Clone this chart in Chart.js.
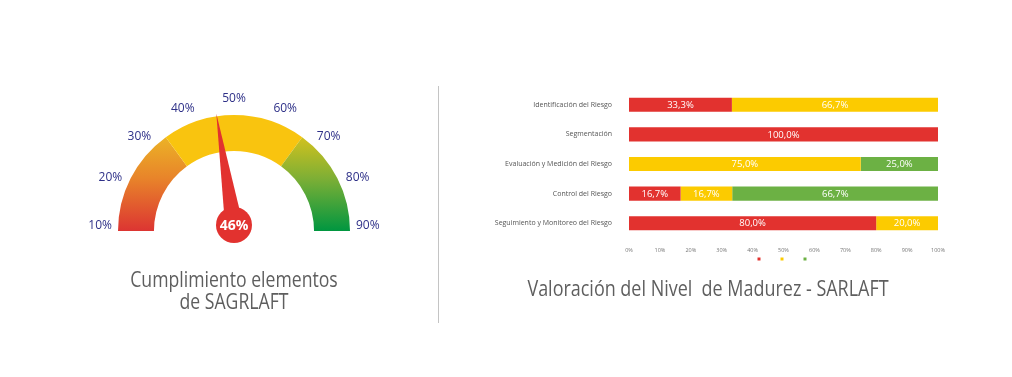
<!DOCTYPE html>
<html>
<head>
<meta charset="utf-8">
<script src="https://cdn.jsdelivr.net/npm/chart.js@4.4.1/dist/chart.umd.min.js"></script>
<style>
  html, body { margin: 0; padding: 0; background: #fff; }
  #wrap { position: relative; width: 1012px; height: 377px; overflow: hidden; font-family: "Open Sans", sans-serif; }
  #gauge { position: absolute; left: 0; top: 0; }
  #bars { position: absolute; left: 440px; top: 0; }
  .divider { position: absolute; left: 438px; top: 86px; width: 1px; height: 237px; background: #c4c4c4; }
  .title { position: absolute; color: #5e5e5e; font-size: 21px; line-height: 22px; white-space: nowrap; text-align: center; transform: scaleX(0.84); }
</style>
</head>
<body>
<div id="wrap">
  <canvas id="gauge" width="470" height="377"></canvas>
  <div class="divider"></div>
  <canvas id="bars" width="572" height="377"></canvas>
  <div class="title" style="left:34px; top:268px; width:400px;">Cumplimiento elementos<br>de SAGRLAFT</div>
  <div class="title" style="left:408px; top:277px; width:600px; transform: scaleX(0.855);">Valoración del Nivel&nbsp; de Madurez - SARLAFT</div>
</div>
<script>
// gauge data
const gaugeTicks = [10, 20, 30, 40, 50, 60, 70, 80, 90];
const gaugeBands = [10, 34, 66, 90];
const gaugeValue = 46;

// bar chart data
const categories = [
  "Identificación del Riesgo",
  "Segmentación",
  "Evaluación y Medición del Riesgo",
  "Control del Riesgo",
  "Seguimiento y Monitoreo del Riesgo"
];
const seriesNames = ["Bajo", "Medio", "Alto"];
const lowValues = [33.3, 100, 0, 16.7, 80];
const midValues = [66.7, 0, 75, 16.7, 20];
const highValues = [0, 0, 25, 66.7, 0];
const xTicks = [0, 10, 20, 30, 40, 50, 60, 70, 80, 90, 100];

const RED = "#e2322f";
const YELLOW = "#fccb00";
const GREEN = "#6cb144";

// gradient stops for each gauge band (bottom -> top)
const bandStops = [
  ["#dc3532", "#e8842a", "#ecb526"],
  ["#f9c40f", "#f9c40f", "#f9c40f"],
  ["#009640", "#7eaf35", "#d6c21d"]
];

const gaugeMin = gaugeBands[0];
const gaugeMax = gaugeBands[gaugeBands.length - 1];

const gaugeDecor = {
  id: "gaugeDecor",
  afterDatasetsDraw(chart) {
    const arc = chart.getDatasetMeta(0).data[0];
    if (!arc) return;
    const cx = arc.x, cy = arc.y, R = arc.outerRadius;
    const ctx = chart.ctx;
    const toAngle = v => Math.PI * (1 - (v - gaugeMin) / (gaugeMax - gaugeMin));

    ctx.save();
    // tick labels around the arc
    ctx.font = '12px "Open Sans"';
    ctx.fillStyle = "#2e3088";
    ctx.textAlign = "center";
    ctx.textBaseline = "middle";
    gaugeTicks.forEach(t => {
      const a = toAngle(t);
      const txt = t + "%";
      const hw = ctx.measureText(txt).width / 2;
      const x = cx + (R + 6 + hw) * Math.cos(a);
      const y = cy - 5 - (R + 6 + 5) * Math.sin(a);
      ctx.fillText(txt, x, y);
    });

    // needle
    const px = cx, py = cy - 6;
    const a = toAngle(gaugeValue);
    const len = R - 3;
    const tx = px + len * Math.cos(a), ty = py - len * Math.sin(a);
    const nx = Math.sin(a), ny = Math.cos(a);
    ctx.fillStyle = RED;
    ctx.beginPath();
    ctx.moveTo(tx, ty);
    ctx.lineTo(px + nx * 9, py + ny * 9);
    ctx.lineTo(px - nx * 9, py - ny * 9);
    ctx.closePath();
    ctx.fill();

    ctx.beginPath();
    ctx.arc(px, py, 18, 0, Math.PI * 2);
    ctx.fill();

    ctx.fillStyle = "#fff";
    ctx.font = 'bold 14px "Open Sans"';
    ctx.fillText(gaugeValue + "%", px, py + 1);
    ctx.restore();
  }
};

new Chart(document.getElementById("gauge"), {
  type: "doughnut",
  data: {
    labels: gaugeBands.slice(1).map((b, i) => gaugeBands[i] + "-" + b),
    datasets: [{
      data: gaugeBands.slice(1).map((b, i) => b - gaugeBands[i]),
      backgroundColor: (c) => {
        const stops = bandStops[c.dataIndex];
        const area = c.chart.chartArea;
        if (!area) return stops[0];
        const g = c.chart.ctx.createLinearGradient(0, area.bottom, 0, area.top + 20);
        g.addColorStop(0, stops[0]);
        g.addColorStop(0.55, stops[1]);
        g.addColorStop(1, stops[2]);
        return g;
      },
      borderWidth: 0,
      hoverOffset: 0,
      offset: 0
    }]
  },
  options: {
    responsive: false,
    animation: false,
    events: [],
    rotation: -90,
    circumference: 180,
    cutout: "69%",
    layout: { padding: { left: 118, right: 120, top: 115, bottom: 146 } },
    plugins: {
      legend: { display: false },
      tooltip: { enabled: false }
    }
  },
  plugins: [gaugeDecor]
});

const barLabels = {
  id: "barLabels",
  afterDatasetsDraw(chart) {
    const ctx = chart.ctx;
    ctx.save();
    ctx.font = '9.5px "Open Sans"';
    ctx.fillStyle = "#fff";
    ctx.textAlign = "center";
    ctx.textBaseline = "middle";
    chart.data.datasets.forEach((ds, i) => {
      chart.getDatasetMeta(i).data.forEach((bar, j) => {
        const v = ds.data[j];
        if (!v) return;
        const p = bar.getProps(["x", "y", "base"], true);
        ctx.fillText(v.toFixed(1).replace(".", ",") + "%", (p.x + p.base) / 2, p.y + 0.5);
      });
    });
    ctx.restore();
  }
};

new Chart(document.getElementById("bars"), {
  type: "bar",
  data: {
    labels: categories,
    datasets: [
      { label: seriesNames[0], data: lowValues, backgroundColor: RED },
      { label: seriesNames[1], data: midValues, backgroundColor: YELLOW },
      { label: seriesNames[2], data: highValues, backgroundColor: GREEN }
    ].map(d => Object.assign(d, { borderWidth: 0, categoryPercentage: 0.95, barPercentage: 0.5 }))
  },
  options: {
    indexAxis: "y",
    responsive: false,
    animation: false,
    events: [],
    layout: { padding: { left: 0, right: 74, top: 90, bottom: 105 } },
    scales: {
      x: {
        stacked: true,
        min: xTicks[0],
        max: xTicks[xTicks.length - 1],
        afterBuildTicks: (s) => { s.ticks = xTicks.map(v => ({ value: v })); },
        // labels are drawn mirrored (no clipping) so the axis can stay thin and the legend sits just below them
        afterFit: (s) => { s.height = 1; },
        grid: { display: false, drawTicks: false },
        border: { display: false },
        ticks: {
          mirror: true,
          padding: -15.5,
          maxRotation: 0,
          autoSkip: false,
          color: "#777",
          font: { family: "Open Sans", size: 5.5 },
          callback: (v) => v + "%"
        }
      },
      y: {
        stacked: true,
        afterFit: (s) => { s.width = 189; },
        grid: { display: false, drawTicks: false },
        border: { display: false },
        ticks: {
          padding: 17,
          color: "#555",
          font: { family: "Open Sans", size: 7 }
        }
      }
    },
    plugins: {
      tooltip: { enabled: false },
      legend: {
        position: "bottom",
        fullSize: false,
        labels: {
          boxWidth: 3,
          boxHeight: 3,
          padding: 17,
          font: { size: 6 },
          generateLabels: (chart) =>
            Chart.defaults.plugins.legend.labels.generateLabels(chart).map(l => Object.assign(l, { text: "" }))
        }
      }
    }
  },
  plugins: [barLabels]
});
</script>
</body>
</html>
